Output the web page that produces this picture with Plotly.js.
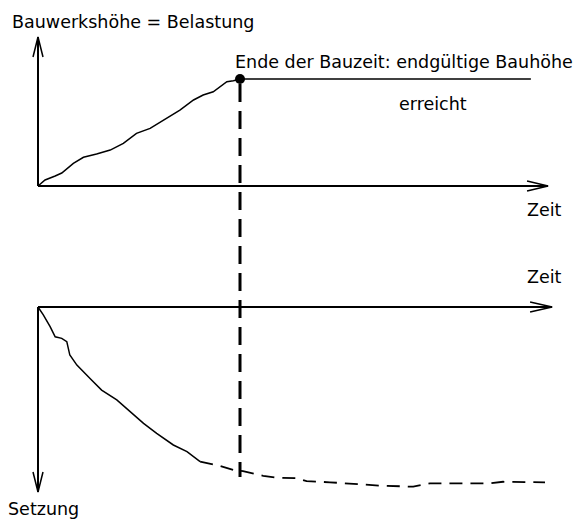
<!DOCTYPE html>
<html>
<head>
<meta charset="utf-8">
<script src="https://cdn.plot.ly/plotly-3.0.1.min.js"></script>
<style>html,body{margin:0;padding:0;background:#fff;}#chart{width:580px;height:523px;}</style>
</head>
<body>
<div id="chart"></div>
<script>
// ---- data (time in arbitrary units, construction ends at t = 40) ----
const loadTime   = [0, 1.4, 3.4, 4.7, 7.0, 9.0, 11.6, 14.3, 16.9, 19.5, 22.2, 24.8, 28.1, 30.8, 32.7, 34.7, 37.4, 38.7, 40];
const loadValues = [0, 5.6, 9.3, 12.1, 21.2, 26.8, 29.9, 33.6, 39.9, 49.2, 53.9, 61.7, 71.0, 80.4, 85.0, 88.1, 97.5, 98.4, 100];

const constructionEnd = 40;
const finalLoad = 100;
const plateauTime = [40, 97.6];
const plateauLoad = [100, 100];

// settlement during construction (solid) and afterwards (dashed)
const settleTimeA = [0, 1.05, 2.4, 3.4, 4.7, 5.7, 6.3, 7.7, 10.6, 12.6, 15.6, 18.2, 20.9, 23.5, 26.8, 29.5, 32.1];
const settleA     = [0, 4.5, 11.2, 16.9, 17.8, 19.7, 27.3, 33.0, 41.5, 47.2, 52.8, 59.5, 66.1, 71.8, 78.4, 82.2, 87.9];
const settleTimeB = [32.1, 35.4, 38.7, 40.6, 44.6, 47.3, 51.2, 53.2, 57.8, 67.7, 74.3, 77.6, 80.2, 89.5, 92.1, 95.8, 100.4];
const settleB     = [87.9, 89.8, 92.6, 93.2, 95.9, 97.0, 97.3, 98.9, 99.6, 101.5, 102.1, 100.2, 100.2, 100.2, 99.3, 99.6, 99.6];

// axis extents
const timeAxisTop = 101.0, timeAxisBottom = 101.8;
const loadAxisMax = 139.3, settleAxisMax = 105.1;

const labels = {
  load: 'Bauwerkshöhe = Belastung',
  end1: 'Ende der Bauzeit: endgültige Bauhöhe',
  end2: 'erreicht',
  time: 'Zeit',
  settle: 'Setzung'
};

// ---- drawing ----
const W = 580, H = 523;
const FONT = {family: 'DejaVu Sans, Arial, sans-serif', size: 17.5, color: '#000'};

const traces = [
  {x: loadTime, y: loadValues, mode: 'lines', xaxis: 'x', yaxis: 'y',
   line: {color: '#000', width: 1.5}, hoverinfo: 'skip'},
  {x: plateauTime, y: plateauLoad, mode: 'lines', xaxis: 'x', yaxis: 'y',
   line: {color: '#000', width: 1.4}, hoverinfo: 'skip'},
  {x: settleTimeA, y: settleA, mode: 'lines', xaxis: 'x', yaxis: 'y2',
   line: {color: '#000', width: 1.5}, hoverinfo: 'skip'},
  {x: settleTimeB, y: settleB, mode: 'lines', xaxis: 'x', yaxis: 'y2',
   line: {color: '#000', width: 1.8, dash: '13px,8px'}, hoverinfo: 'skip'},
  {x: [constructionEnd], y: [finalLoad], mode: 'markers', xaxis: 'x', yaxis: 'y',
   marker: {color: '#000', size: 10}, hoverinfo: 'skip'}
];

function px2paperY(p) { return 1 - p / H; }
function px2paperX(p) { return p / W; }

const axLine = {color: '#000', width: 2};
const headLine = {color: '#000', width: 1.5};

const shapes = [
  // top time axis
  {type: 'line', xref: 'x', yref: 'y', x0: 0, x1: timeAxisTop, y0: 0, y1: 0, line: axLine},
  {type: 'path', xref: 'x', yref: 'y', xsizemode: 'pixel', ysizemode: 'pixel',
   xanchor: timeAxisTop, yanchor: 0, path: 'M-21,-5L0,0L-21,5', line: headLine},
  // load axis
  {type: 'line', xref: 'x', yref: 'y', x0: 0, x1: 0, y0: 0, y1: loadAxisMax, line: axLine},
  {type: 'path', xref: 'x', yref: 'y', xsizemode: 'pixel', ysizemode: 'pixel',
   xanchor: 0, yanchor: loadAxisMax, path: 'M-5,-20L0,0L5,-20', line: headLine},
  // bottom time axis
  {type: 'line', xref: 'x', yref: 'y2', x0: 0, x1: timeAxisBottom, y0: 0, y1: 0, line: axLine},
  {type: 'path', xref: 'x', yref: 'y2', xsizemode: 'pixel', ysizemode: 'pixel',
   xanchor: timeAxisBottom, yanchor: 0, path: 'M-22,-5L0,0L-22,5', line: headLine},
  // settlement axis
  {type: 'line', xref: 'x', yref: 'y2', x0: 0, x1: 0, y0: 0, y1: settleAxisMax, line: axLine},
  {type: 'path', xref: 'x', yref: 'y2', xsizemode: 'pixel', ysizemode: 'pixel',
   xanchor: 0, yanchor: settleAxisMax, path: 'M-5,20L0,0L5,20', line: headLine},
  // end of construction marker line
  {type: 'line', xref: 'x', yref: 'paper', x0: constructionEnd, x1: constructionEnd,
   y0: px2paperY(84), y1: px2paperY(477), line: {color: '#000', width: 3, dash: '18px,9px'}}
];

function ann(text, xpx, ypx) {
  return {text: text, xref: 'paper', yref: 'paper', x: px2paperX(xpx), y: px2paperY(ypx),
          xanchor: 'left', yanchor: 'middle', showarrow: false, font: FONT};
}

const annotations = [
  ann(labels.load, 10, 22),
  ann(labels.end1, 233, 62),
  ann(labels.end2, 397, 104),
  ann(labels.time, 525, 210),
  ann(labels.time, 525, 277),
  ann(labels.settle, 6, 509)
];

const layout = {
  width: W, height: H,
  margin: {l: 0, r: 0, t: 0, b: 0, pad: 0},
  paper_bgcolor: '#fff', plot_bgcolor: '#fff',
  showlegend: false,
  xaxis: {visible: false, range: [-38 / 5.05, 542 / 5.05], autorange: false, domain: [0, 1]},
  yaxis: {visible: false, range: [(186 - 523) / 1.07, 186 / 1.07], autorange: false, domain: [0, 1]},
  yaxis2: {visible: false, overlaying: 'y', range: [(523 - 307) / 1.76, -307 / 1.76], autorange: false},
  shapes: shapes,
  annotations: annotations
};

Plotly.newPlot('chart', traces, layout, {staticPlot: true, displayModeBar: false});
</script>
</body>
</html>
